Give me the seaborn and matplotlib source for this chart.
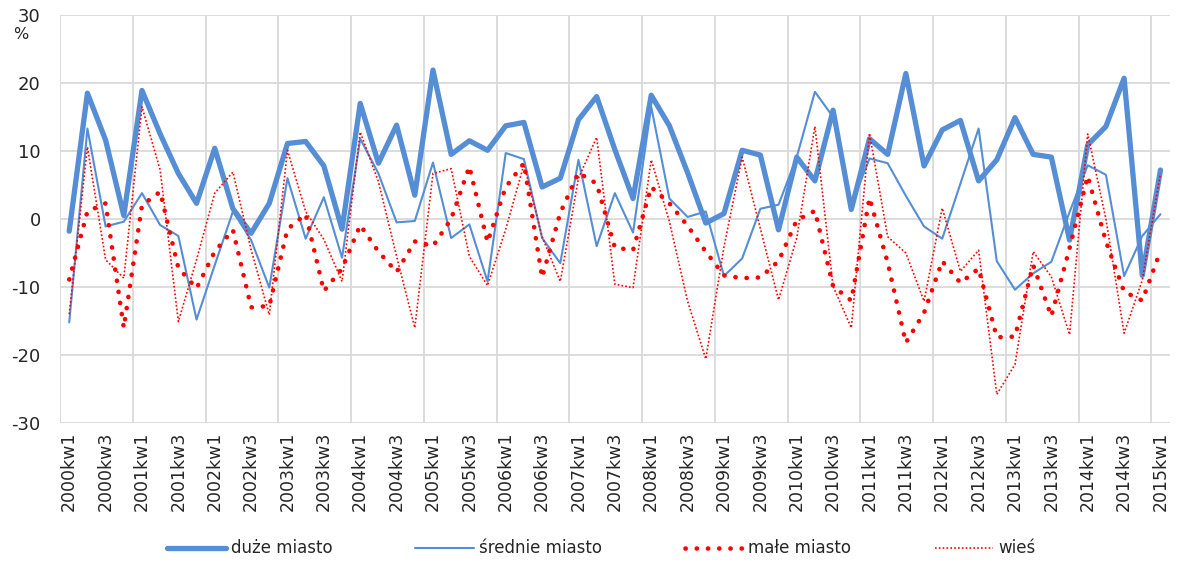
import numpy as np
import pandas as pd
import matplotlib
matplotlib.use("Agg")
import matplotlib.pyplot as plt
import seaborn as sns

# quarters 2000kw1 .. 2015kw1
quarters = ["{0}kw{1}".format(y, q) for y in range(2000, 2016) for q in range(1, 5)][:61]

duze = [-1.8, 18.5, 11.6, 0.5, 18.9, 12.5, 6.7, 2.3, 10.4, 1.5,
        -2.1, 2.3, 11.1, 11.4, 7.8, -1.5, 17.0, 8.2, 13.8, 3.5,
        21.9, 9.5, 11.5, 10.1, 13.7, 14.2, 4.7, 6.0, 14.6, 18.0,
        10.2, 3.0, 18.2, 13.7, 6.8, -0.6, 0.8, 10.1, 9.4, -1.6,
        9.1, 5.6, 16.0, 1.4, 11.8, 9.5, 21.4, 7.8, 13.1, 14.5,
        5.6, 8.7, 14.9, 9.5, 9.1, -3.1, 10.9, 13.6, 20.7, -8.3,
        7.2]
srednie = [-15.2, 13.3, -1.1, -0.4, 3.8, -0.9, -2.5, -14.8, -6.8, 1.1,
           -3.1, -10.1, 6.0, -2.9, 3.2, -5.7, 11.8, 6.7, -0.5, -0.3,
           8.3, -2.8, -0.8, -9.2, 9.7, 8.8, -2.8, -6.5, 8.7, -4.0,
           3.8, -2.0, 16.5, 3.0, 0.3, 1.1, -8.4, -5.8, 1.5, 2.1,
           9.1, 18.7, 15.0, 2.0, 8.9, 8.2, 3.4, -1.1, -2.9, 5.2,
           13.3, -6.2, -10.4, -8.0, -6.3, 1.0, 7.9, 6.5, -8.4, -2.5,
           0.7]
male = [-8.9, 1.1, 2.3, -16.0, 2.0, 4.0, -7.2, -10.2, -4.8, -1.6,
        -13.0, -12.8, -1.5, 0.7, -10.6, -7.3, -0.9, -4.8, -7.8, -3.3,
        -4.0, 0.0, 7.7, -3.4, 4.7, 8.2, -8.6, 0.9, 6.8, 5.2,
        -4.2, -4.6, 4.7, 2.3, -1.0, -4.8, -8.3, -8.7, -8.6, -6.2,
        -0.2, 1.2, -9.9, -12.0, 3.1, -6.4, -18.2, -13.8, -6.2, -9.4,
        -7.3, -17.4, -17.3, -6.8, -14.3, -4.3, 6.3, -3.3, -10.7, -12.0,
        -4.7]
wies = [-14.0, 10.6, -6.0, -8.7, 16.5, 7.2, -15.1, -6.0, 3.8, 6.9,
        -4.5, -14.1, 10.1, 1.1, -3.0, -9.2, 12.8, 5.5, -5.5, -16.0,
        6.7, 7.4, -5.5, -9.8, -1.5, 8.0, -2.6, -9.2, 6.0, 12.0,
        -9.6, -10.1, 8.7, -0.4, -12.1, -20.6, -4.1, 9.1, -1.4, -11.9,
        -2.8, 13.6, -9.9, -16.0, 12.6, -2.6, -5.0, -12.1, 1.6, -7.7,
        -4.6, -25.8, -21.4, -4.8, -8.5, -17.0, 12.5, 0.0, -16.8, -9.0,
        6.7]

d = pd.DataFrame({"kwartal": quarters, "duże miasto": duze, "średnie miasto": srednie,
                  "małe miasto": male, "wieś": wies})
d["x"] = np.arange(len(d))

sns.set_style("white")
plt.rcParams['font.family'] = ['DejaVu Sans']
plt.rcParams['axes.unicode_minus'] = False

blue = "#558ED5"
red = "#FF0000"

fig = plt.figure(figsize=(11.79, 5.77), dpi=100)
ax = fig.add_axes([0.051, 0.267, 0.941, 0.707])

sns.lineplot(data=d, x="x", y="duże miasto", ax=ax, color=blue, linewidth=3.8,
             label="duże miasto")
sns.lineplot(data=d, x="x", y="średnie miasto", ax=ax, color=blue, linewidth=1.5,
             label="średnie miasto")
sns.lineplot(data=d, x="x", y="małe miasto", ax=ax, color=red, linewidth=3.3,
             linestyle=(0, (0.05, 2.4)), dash_capstyle="round", label="małe miasto")
sns.lineplot(data=d, x="x", y="wieś", ax=ax, color=red, linewidth=1.2,
             linestyle=(0, (1, 1.3)), label="wieś")

ax.set_xlim(-0.5, len(d) - 0.5)
ax.set_ylim(-30, 30)
ax.set_yticks(np.arange(-30, 31, 10))
ax.set_xticks(d["x"][::2])
ax.set_xticklabels(d["kwartal"][::2], rotation=90, fontsize=12.5)
ax.tick_params(axis="y", labelsize=13, length=0, pad=14)
ax.tick_params(axis="x", length=0, pad=6)
ax.set_xlabel("")
ax.set_ylabel("")

# excel style grid: horizontal every 10, vertical every 4 quarters
for yv in np.arange(-30, 31, 10):
    ax.axhline(yv, color="#D9D9D9", linewidth=1.3, zorder=0)
for xv in np.arange(-0.5, len(d), 4):
    ax.axvline(xv, color="#D9D9D9", linewidth=1.3, zorder=0)
for s in ax.spines.values():
    s.set_visible(False)

fig.text(0.011, 0.94, "%", fontsize=11.5, ha="left", va="center")

ax.legend(loc="lower center", bbox_to_anchor=(0.51, 0.008), bbox_transform=fig.transFigure,
          ncol=4, frameon=False, fontsize=12, handlelength=3.5, columnspacing=5,
          handletextpad=0.3)

plt.savefig("out.png", dpi=100)
